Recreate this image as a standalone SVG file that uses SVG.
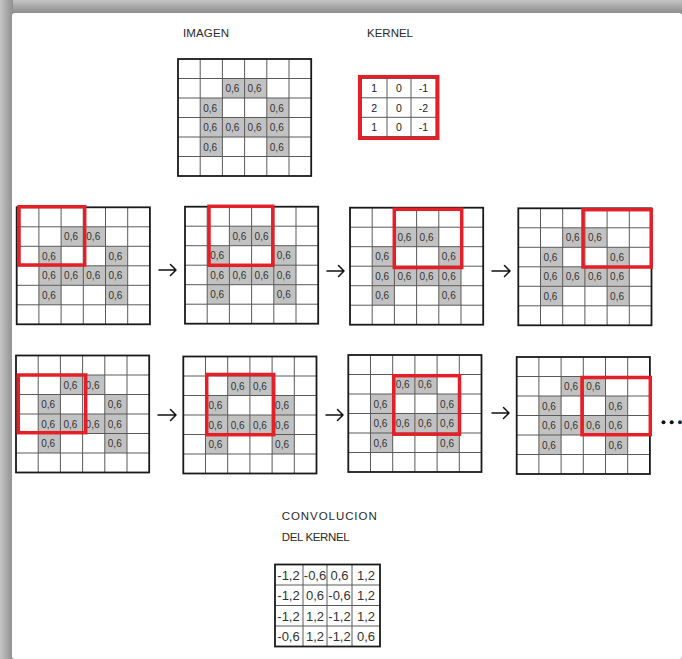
<svg xmlns="http://www.w3.org/2000/svg" width="682" height="659" viewBox="0 0 682 659">
<style>
.gc{fill:#c2c2c2}
.gl{fill:none;stroke:#5a5a5a;stroke-width:1}
.go{fill:none;stroke:#1a1a1a;stroke-width:1.8}
.v{font-family:"Liberation Sans",Arial,sans-serif;font-size:10px;fill:#333}
.k{font-family:"Liberation Sans",Arial,sans-serif;font-size:10.5px;fill:#222;text-anchor:middle}
.r{font-family:"Liberation Sans",Arial,sans-serif;font-size:13px;fill:#333;text-anchor:middle}
.t{font-family:"Liberation Sans",Arial,sans-serif;font-size:11.5px;fill:#2a2a2a}
.red{fill:none;stroke:#e31f27;stroke-width:3.5}
.arr{fill:none;stroke:#111;stroke-width:1.5;stroke-linecap:round;stroke-linejoin:round}
</style>
<defs>
<linearGradient id="sh-top" x1="0" y1="0" x2="0" y2="1">
<stop offset="0" stop-color="#c4c4c4"/>
<stop offset="0.7" stop-color="#9a9a9a"/>
<stop offset="1" stop-color="#8c8c8c"/>
</linearGradient>
<linearGradient id="sh-left" x1="0" y1="0" x2="1" y2="0">
<stop offset="0" stop-color="#c6c6c6"/>
<stop offset="0.7" stop-color="#9e9e9e"/>
<stop offset="1" stop-color="#909090"/>
</linearGradient>
</defs>
<g id="frame">
<rect x="0" y="0" width="682" height="659" fill="#bdbdbd"/>
<rect x="0" y="0" width="682" height="14" fill="url(#sh-top)"/>
<rect x="0" y="0" width="13" height="659" fill="url(#sh-left)"/>
<rect x="12" y="13" width="670" height="646" rx="3" fill="#ffffff"/>
</g>

<g id="titles">
<text class="t" x="183" y="36.5" textLength="46">IMAGEN</text>
<text class="t" x="367" y="36.5" textLength="46">KERNEL</text>
</g>

<g id="imagen" transform="translate(178,59)">
<rect class="gc" x="44.4" y="19.5" width="44.4" height="19.5"/><rect class="gc" x="22.2" y="39" width="22.2" height="19.5"/><rect class="gc" x="88.8" y="39" width="22.2" height="19.5"/><rect class="gc" x="22.2" y="58.5" width="88.8" height="19.5"/><rect class="gc" x="22.2" y="78" width="22.2" height="19.5"/><rect class="gc" x="88.8" y="78" width="22.2" height="19.5"/>
<path class="gl" d="M22.2 0V117M44.4 0V117M66.6 0V117M88.8 0V117M111 0V117M0 19.5H133.2M0 39H133.2M0 58.5H133.2M0 78H133.2M0 97.5H133.2"/>
<rect class="go" width="133.2" height="117"/>
<text class="v" x="47.4" y="33">0,6</text><text class="v" x="69.6" y="33">0,6</text><text class="v" x="25.2" y="52.5">0,6</text><text class="v" x="91.8" y="52.5">0,6</text><text class="v" x="25.2" y="72">0,6</text><text class="v" x="47.4" y="72">0,6</text><text class="v" x="69.6" y="72">0,6</text><text class="v" x="91.8" y="72">0,6</text><text class="v" x="25.2" y="91.5">0,6</text><text class="v" x="91.8" y="91.5">0,6</text>
</g>

<g id="kernel">
<path class="gl" d="M387 78.3V136.7M411 78.3V136.7M361.3 97.8H436M361.3 117.3H436"/>
<rect x="361.3" y="78.3" width="74.7" height="58.4" fill="none" stroke="#333" stroke-width="1"/>
<rect class="red" x="359.7" y="76.7" width="78" height="61.6"/>
<text class="k" x="374.2" y="92">1</text><text class="k" x="399" y="92">0</text><text class="k" x="423.5" y="92">-1</text>
<text class="k" x="374.2" y="111.5">2</text><text class="k" x="399" y="111.5">0</text><text class="k" x="423.5" y="111.5">-2</text>
<text class="k" x="374.2" y="131">1</text><text class="k" x="399" y="131">0</text><text class="k" x="423.5" y="131">-1</text>
</g>

<g id="paso-1-1">
<g transform="translate(16.7,207.3)">
<rect class="gc" x="44.4" y="19.5" width="44.4" height="19.5"/><rect class="gc" x="22.2" y="39" width="22.2" height="19.5"/><rect class="gc" x="88.8" y="39" width="22.2" height="19.5"/><rect class="gc" x="22.2" y="58.5" width="88.8" height="19.5"/><rect class="gc" x="22.2" y="78" width="22.2" height="19.5"/><rect class="gc" x="88.8" y="78" width="22.2" height="19.5"/>
<path class="gl" d="M22.2 0V117M44.4 0V117M66.6 0V117M88.8 0V117M111 0V117M0 19.5H133.2M0 39H133.2M0 58.5H133.2M0 78H133.2M0 97.5H133.2"/>
<rect class="go" width="133.2" height="117"/>
<text class="v" x="47.4" y="33">0,6</text><text class="v" x="69.6" y="33">0,6</text><text class="v" x="25.2" y="52.5">0,6</text><text class="v" x="91.8" y="52.5">0,6</text><text class="v" x="25.2" y="72">0,6</text><text class="v" x="47.4" y="72">0,6</text><text class="v" x="69.6" y="72">0,6</text><text class="v" x="91.8" y="72">0,6</text><text class="v" x="25.2" y="91.5">0,6</text><text class="v" x="91.8" y="91.5">0,6</text>
</g>
<rect class="red" x="19" y="206.7" width="65.7" height="58.3"/>
</g>

<g id="paso-1-2">
<g transform="translate(185,206.7)">
<rect class="gc" x="44.4" y="19.5" width="44.4" height="19.5"/><rect class="gc" x="22.2" y="39" width="22.2" height="19.5"/><rect class="gc" x="88.8" y="39" width="22.2" height="19.5"/><rect class="gc" x="22.2" y="58.5" width="88.8" height="19.5"/><rect class="gc" x="22.2" y="78" width="22.2" height="19.5"/><rect class="gc" x="88.8" y="78" width="22.2" height="19.5"/>
<path class="gl" d="M22.2 0V117M44.4 0V117M66.6 0V117M88.8 0V117M111 0V117M0 19.5H133.2M0 39H133.2M0 58.5H133.2M0 78H133.2M0 97.5H133.2"/>
<rect class="go" width="133.2" height="117"/>
<text class="v" x="47.4" y="33">0,6</text><text class="v" x="69.6" y="33">0,6</text><text class="v" x="25.2" y="52.5">0,6</text><text class="v" x="91.8" y="52.5">0,6</text><text class="v" x="25.2" y="72">0,6</text><text class="v" x="47.4" y="72">0,6</text><text class="v" x="69.6" y="72">0,6</text><text class="v" x="91.8" y="72">0,6</text><text class="v" x="25.2" y="91.5">0,6</text><text class="v" x="91.8" y="91.5">0,6</text>
</g>
<rect class="red" x="209" y="206.3" width="63.8" height="59"/>
</g>

<g id="paso-1-3">
<g transform="translate(350,207.7)">
<rect class="gc" x="44.4" y="19.5" width="44.4" height="19.5"/><rect class="gc" x="22.2" y="39" width="22.2" height="19.5"/><rect class="gc" x="88.8" y="39" width="22.2" height="19.5"/><rect class="gc" x="22.2" y="58.5" width="88.8" height="19.5"/><rect class="gc" x="22.2" y="78" width="22.2" height="19.5"/><rect class="gc" x="88.8" y="78" width="22.2" height="19.5"/>
<path class="gl" d="M22.2 0V117M44.4 0V117M66.6 0V117M88.8 0V117M111 0V117M0 19.5H133.2M0 39H133.2M0 58.5H133.2M0 78H133.2M0 97.5H133.2"/>
<rect class="go" width="133.2" height="117"/>
<text class="v" x="47.4" y="33">0,6</text><text class="v" x="69.6" y="33">0,6</text><text class="v" x="25.2" y="52.5">0,6</text><text class="v" x="91.8" y="52.5">0,6</text><text class="v" x="25.2" y="72">0,6</text><text class="v" x="47.4" y="72">0,6</text><text class="v" x="69.6" y="72">0,6</text><text class="v" x="91.8" y="72">0,6</text><text class="v" x="25.2" y="91.5">0,6</text><text class="v" x="91.8" y="91.5">0,6</text>
</g>
<rect class="red" x="394.3" y="209.3" width="67.4" height="58.2"/>
</g>

<g id="paso-1-4">
<g transform="translate(518.3,208.3)">
<rect class="gc" x="44.4" y="19.5" width="44.4" height="19.5"/><rect class="gc" x="22.2" y="39" width="22.2" height="19.5"/><rect class="gc" x="88.8" y="39" width="22.2" height="19.5"/><rect class="gc" x="22.2" y="58.5" width="88.8" height="19.5"/><rect class="gc" x="22.2" y="78" width="22.2" height="19.5"/><rect class="gc" x="88.8" y="78" width="22.2" height="19.5"/>
<path class="gl" d="M22.2 0V117M44.4 0V117M66.6 0V117M88.8 0V117M111 0V117M0 19.5H133.2M0 39H133.2M0 58.5H133.2M0 78H133.2M0 97.5H133.2"/>
<rect class="go" width="133.2" height="117"/>
<text class="v" x="47.4" y="33">0,6</text><text class="v" x="69.6" y="33">0,6</text><text class="v" x="25.2" y="52.5">0,6</text><text class="v" x="91.8" y="52.5">0,6</text><text class="v" x="25.2" y="72">0,6</text><text class="v" x="47.4" y="72">0,6</text><text class="v" x="69.6" y="72">0,6</text><text class="v" x="91.8" y="72">0,6</text><text class="v" x="25.2" y="91.5">0,6</text><text class="v" x="91.8" y="91.5">0,6</text>
</g>
<rect class="red" x="583" y="209.7" width="68.2" height="57.3"/>
</g>

<g id="paso-2-1">
<g transform="translate(16,355.5)">
<rect class="gc" x="44.4" y="19.5" width="44.4" height="19.5"/><rect class="gc" x="22.2" y="39" width="22.2" height="19.5"/><rect class="gc" x="88.8" y="39" width="22.2" height="19.5"/><rect class="gc" x="22.2" y="58.5" width="88.8" height="19.5"/><rect class="gc" x="22.2" y="78" width="22.2" height="19.5"/><rect class="gc" x="88.8" y="78" width="22.2" height="19.5"/>
<path class="gl" d="M22.2 0V117M44.4 0V117M66.6 0V117M88.8 0V117M111 0V117M0 19.5H133.2M0 39H133.2M0 58.5H133.2M0 78H133.2M0 97.5H133.2"/>
<rect class="go" width="133.2" height="117"/>
<text class="v" x="47.4" y="33">0,6</text><text class="v" x="69.6" y="33">0,6</text><text class="v" x="25.2" y="52.5">0,6</text><text class="v" x="91.8" y="52.5">0,6</text><text class="v" x="25.2" y="72">0,6</text><text class="v" x="47.4" y="72">0,6</text><text class="v" x="69.6" y="72">0,6</text><text class="v" x="91.8" y="72">0,6</text><text class="v" x="25.2" y="91.5">0,6</text><text class="v" x="91.8" y="91.5">0,6</text>
</g>
<rect class="red" x="18.3" y="375" width="67.4" height="57.7"/>
</g>

<g id="paso-2-2">
<g transform="translate(183.3,356.5)">
<rect class="gc" x="44.4" y="19.5" width="44.4" height="19.5"/><rect class="gc" x="22.2" y="39" width="22.2" height="19.5"/><rect class="gc" x="88.8" y="39" width="22.2" height="19.5"/><rect class="gc" x="22.2" y="58.5" width="88.8" height="19.5"/><rect class="gc" x="22.2" y="78" width="22.2" height="19.5"/><rect class="gc" x="88.8" y="78" width="22.2" height="19.5"/>
<path class="gl" d="M22.2 0V117M44.4 0V117M66.6 0V117M88.8 0V117M111 0V117M0 19.5H133.2M0 39H133.2M0 58.5H133.2M0 78H133.2M0 97.5H133.2"/>
<rect class="go" width="133.2" height="117"/>
<text class="v" x="47.4" y="33">0,6</text><text class="v" x="69.6" y="33">0,6</text><text class="v" x="25.2" y="52.5">0,6</text><text class="v" x="91.8" y="52.5">0,6</text><text class="v" x="25.2" y="72">0,6</text><text class="v" x="47.4" y="72">0,6</text><text class="v" x="69.6" y="72">0,6</text><text class="v" x="91.8" y="72">0,6</text><text class="v" x="25.2" y="91.5">0,6</text><text class="v" x="91.8" y="91.5">0,6</text>
</g>
<rect class="red" x="206.7" y="374.5" width="67" height="60.2"/>
</g>

<g id="paso-2-3">
<g transform="translate(348.3,355)">
<rect class="gc" x="44.4" y="19.5" width="44.4" height="19.5"/><rect class="gc" x="22.2" y="39" width="22.2" height="19.5"/><rect class="gc" x="88.8" y="39" width="22.2" height="19.5"/><rect class="gc" x="22.2" y="58.5" width="88.8" height="19.5"/><rect class="gc" x="22.2" y="78" width="22.2" height="19.5"/><rect class="gc" x="88.8" y="78" width="22.2" height="19.5"/>
<path class="gl" d="M22.2 0V117M44.4 0V117M66.6 0V117M88.8 0V117M111 0V117M0 19.5H133.2M0 39H133.2M0 58.5H133.2M0 78H133.2M0 97.5H133.2"/>
<rect class="go" width="133.2" height="117"/>
<text class="v" x="47.4" y="33">0,6</text><text class="v" x="69.6" y="33">0,6</text><text class="v" x="25.2" y="52.5">0,6</text><text class="v" x="91.8" y="52.5">0,6</text><text class="v" x="25.2" y="72">0,6</text><text class="v" x="47.4" y="72">0,6</text><text class="v" x="69.6" y="72">0,6</text><text class="v" x="91.8" y="72">0,6</text><text class="v" x="25.2" y="91.5">0,6</text><text class="v" x="91.8" y="91.5">0,6</text>
</g>
<rect class="red" x="393.8" y="375.7" width="65.7" height="58.5"/>
</g>

<g id="paso-2-4">
<g transform="translate(516.7,357)">
<rect class="gc" x="44.4" y="19.5" width="44.4" height="19.5"/><rect class="gc" x="22.2" y="39" width="22.2" height="19.5"/><rect class="gc" x="88.8" y="39" width="22.2" height="19.5"/><rect class="gc" x="22.2" y="58.5" width="88.8" height="19.5"/><rect class="gc" x="22.2" y="78" width="22.2" height="19.5"/><rect class="gc" x="88.8" y="78" width="22.2" height="19.5"/>
<path class="gl" d="M22.2 0V117M44.4 0V117M66.6 0V117M88.8 0V117M111 0V117M0 19.5H133.2M0 39H133.2M0 58.5H133.2M0 78H133.2M0 97.5H133.2"/>
<rect class="go" width="133.2" height="117"/>
<text class="v" x="47.4" y="33">0,6</text><text class="v" x="69.6" y="33">0,6</text><text class="v" x="25.2" y="52.5">0,6</text><text class="v" x="91.8" y="52.5">0,6</text><text class="v" x="25.2" y="72">0,6</text><text class="v" x="47.4" y="72">0,6</text><text class="v" x="69.6" y="72">0,6</text><text class="v" x="91.8" y="72">0,6</text><text class="v" x="25.2" y="91.5">0,6</text><text class="v" x="91.8" y="91.5">0,6</text>
</g>
<rect class="red" x="582" y="377.5" width="68.3" height="57.2"/>
</g>

<g id="connectors">
<path class="arr" d="M159 270H176M170.5 264.5L176 270L170.5 275.5"/>
<path class="arr" d="M327 271H344M338.5 265.5L344 271L338.5 276.5"/>
<path class="arr" d="M492 271H510M504.5 265.5L510 271L504.5 276.5"/>
<path class="arr" d="M158 415H176M170.5 409.5L176 415L170.5 420.5"/>
<path class="arr" d="M326 415H343M337.5 409.5L343 415L337.5 420.5"/>
<path class="arr" d="M492 413H509M503.5 407.5L509 413L503.5 418.5"/>
</g>

<g id="continua">
<circle cx="663.5" cy="422.3" r="2" fill="#111"/>
<circle cx="671.7" cy="422.3" r="2" fill="#111"/>
<circle cx="680" cy="422.3" r="2" fill="#1a2a55"/>
</g>

<g id="resultado">
<text class="t" x="281.7" y="519.5" textLength="95">CONVOLUCION</text>
<text class="t" x="281.7" y="541" textLength="68">DEL KERNEL</text>
<path class="gl" d="M303 564.5V646.5M327 564.5V646.5M352 564.5V646.5M275 585H380M275 605.5H380M275 626H380"/>
<rect class="go" x="275" y="564.5" width="105" height="82"/>
<text class="r" x="288.5" y="579.5">-1,2</text><text class="r" x="315" y="579.5">-0,6</text><text class="r" x="339.5" y="579.5">0,6</text><text class="r" x="366" y="579.5">1,2</text>
<text class="r" x="288.5" y="600">-1,2</text><text class="r" x="315" y="600">0,6</text><text class="r" x="339.5" y="600">-0,6</text><text class="r" x="366" y="600">1,2</text>
<text class="r" x="288.5" y="620.5">-1,2</text><text class="r" x="315" y="620.5">1,2</text><text class="r" x="339.5" y="620.5">-1,2</text><text class="r" x="366" y="620.5">1,2</text>
<text class="r" x="288.5" y="641">-0,6</text><text class="r" x="315" y="641">1,2</text><text class="r" x="339.5" y="641">-1,2</text><text class="r" x="366" y="641">0,6</text>
</g>
</svg>
